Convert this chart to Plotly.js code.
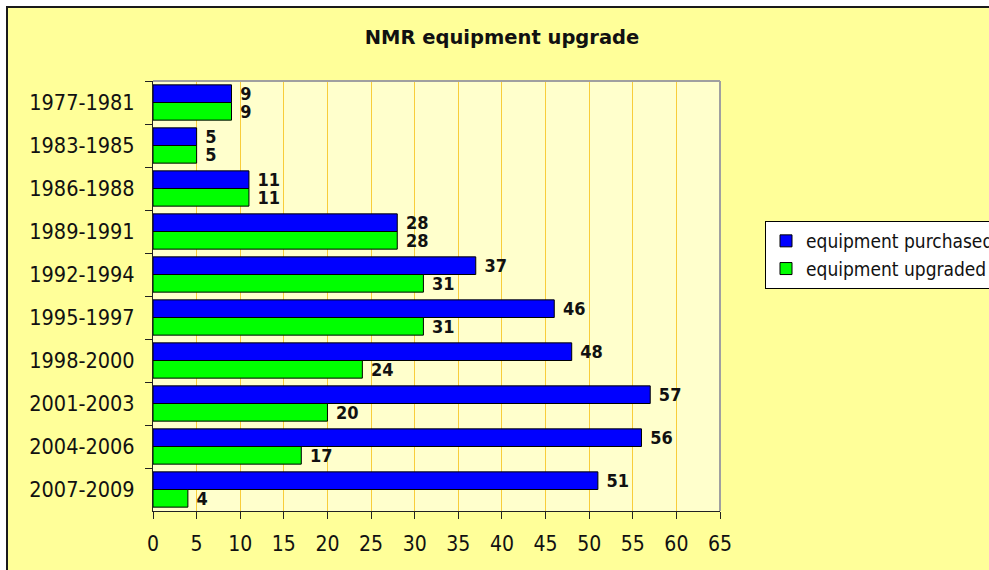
<!DOCTYPE html>
<html>
<head>
<meta charset="utf-8">
<script src="https://cdn.plot.ly/plotly-3.0.1.min.js"></script>
<style>
  html, body { margin: 0; padding: 0; background: #ffffff; }
  #chart { width: 989px; height: 570px; }
</style>
</head>
<body>
<div id="chart"></div>
<script>
// ---- data ----
var periods = ['1977-1981', '1983-1985', '1986-1988', '1989-1991', '1992-1994',
               '1995-1997', '1998-2000', '2001-2003', '2004-2006', '2007-2009'];
var purchased = [9, 5, 11, 28, 37, 46, 48, 57, 56, 51];
var upgraded  = [9, 5, 11, 28, 31, 31, 24, 20, 17, 4];
var seriesNames = ['equipment purchased', 'equipment upgraded'];
var xTicks = [0, 5, 10, 15, 20, 25, 30, 35, 40, 45, 50, 55, 60, 65];
var chartTitle = 'NMR equipment upgrade';

// ---- layout geometry (pixels) ----
var W = 989, H = 570;
var M = { l: 153, r: 269, t: 81, b: 59, autoexpand: false };
var pw = W - M.l - M.r, ph = H - M.t - M.b;
function px2x(p) { return (p - M.l) / pw; }
function py2y(p) { return (H - M.b - p) / ph; }

var labelFont = { family: 'DejaVu Sans Condensed', size: 18, weight: 'bold', color: '#111' };

var traces = [
  {
    type: 'bar', orientation: 'h', name: seriesNames[0],
    y: periods, x: purchased,
    marker: { color: '#0000FF', line: { color: '#000', width: 1 } },
    text: purchased.map(function (v) { return '\u00a0' + v; }),
    textposition: 'outside', textfont: labelFont, constraintext: 'none',
    cliponaxis: false, hoverinfo: 'x+y'
  },
  {
    type: 'bar', orientation: 'h', name: seriesNames[1],
    y: periods, x: upgraded,
    marker: { color: '#00FF00', line: { color: '#000', width: 1 } },
    text: upgraded.map(function (v) { return '\u00a0' + v; }),
    textposition: 'outside', textfont: labelFont, constraintext: 'none',
    cliponaxis: false, hoverinfo: 'x+y'
  }
];

var layout = {
  width: W, height: H,
  margin: M,
  paper_bgcolor: '#FFFFFF',
  plot_bgcolor: 'rgba(0,0,0,0)',
  barmode: 'group',
  bargap: 0.18,
  bargroupgap: 0,
  title: {
    text: chartTitle,
    font: { family: 'DejaVu Sans', size: 19.5, weight: 'bold', color: '#111' },
    x: 502 / W, xref: 'container', xanchor: 'center',
    y: 1 - 37 / H, yref: 'container', yanchor: 'middle'
  },
  xaxis: {
    range: [0, 65],
    tickvals: xTicks,
    ticktext: xTicks.map(String),
    showgrid: true, gridcolor: '#F8CD3A', gridwidth: 1,
    zeroline: false,
    showline: true, linecolor: '#222', linewidth: 1,
    ticks: 'outside', ticklen: 7, tickcolor: '#222', tickwidth: 1,
    ticklabelstandoff: 7,
    tickfont: { family: 'DejaVu Sans Condensed', size: 21, color: '#111' },
    automargin: false,
    fixedrange: true
  },
  yaxis: {
    type: 'category',
    autorange: 'reversed',
    showgrid: false, zeroline: false,
    showline: true, linecolor: '#222', linewidth: 1,
    ticks: 'outside', ticklen: 7, tickcolor: '#222', tickwidth: 1,
    tickson: 'boundaries',
    ticklabelstandoff: 13,
    tickfont: { family: 'DejaVu Sans Condensed', size: 21.5, color: '#111' },
    automargin: false,
    fixedrange: true
  },
  legend: {
    x: px2x(765), xanchor: 'left',
    y: py2y(221), yanchor: 'top',
    bgcolor: '#FFFFFF', bordercolor: '#000', borderwidth: 1,
    font: { family: 'DejaVu Sans Condensed', size: 19, color: '#111' },
    traceorder: 'normal'
  },
  shapes: [
    // chart area (outer yellow box with dark border)
    { type: 'rect', xref: 'paper', yref: 'paper', layer: 'below',
      x0: px2x(7), x1: px2x(1100), y0: py2y(700), y1: py2y(7),
      fillcolor: '#FFFF99', line: { color: '#1a1a1a', width: 2 } },
    // plot area fill
    { type: 'rect', xref: 'paper', yref: 'paper', layer: 'below',
      x0: 0, x1: 1, y0: 0, y1: 1,
      fillcolor: '#FFFFCC', line: { width: 0 } },
    // plot area top and right border (gray)
    { type: 'line', xref: 'paper', yref: 'paper', layer: 'above',
      x0: 0, x1: 1, y0: 1, y1: 1, line: { color: '#A0A0A0', width: 2 } },
    { type: 'line', xref: 'paper', yref: 'paper', layer: 'above',
      x0: 1, x1: 1, y0: 0, y1: 1, line: { color: '#A0A0A0', width: 2 } }
  ],
  showlegend: true
};

Plotly.newPlot('chart', traces, layout, { displayModeBar: false, staticPlot: true });
</script>
</body>
</html>
